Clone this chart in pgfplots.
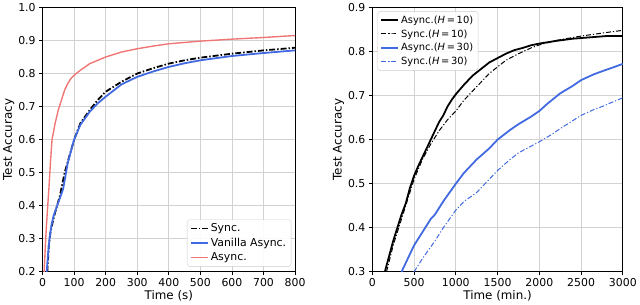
\documentclass[border=0pt]{standalone}
\usepackage{fontspec}
\setmainfont{DejaVu Sans}
\usepackage{pgfplots}
\pgfplotsset{compat=1.18}
\definecolor{myred}{HTML}{F07676}
\definecolor{myblue}{HTML}{4169E1}
\begin{document}
\begin{tikzpicture}
\path (0pt,0pt) rectangle (640pt,305pt);
\pgfplotsset{
  every axis/.style={
    scale only axis,
    anchor=south west,
    height=267pt,
    axis line style={black, line width=0.8pt},
    grid=major,
    major grid style={gray!35, line width=0.8pt},
    tick style={black, line width=0.8pt},
    tick align=outside,
    major tick length=3.5pt,
    xtick pos=bottom, ytick pos=left,
    tick label style={font=\fontsize{11}{13}\selectfont},
    label style={font=\fontsize{12}{14}\selectfont},
    /pgf/number format/assume math mode=true,
    yticklabel style={/pgf/number format/fixed, /pgf/number format/precision=1, /pgf/number format/fixed zerofill},
    xticklabel style={/pgf/number format/fixed, /pgf/number format/1000 sep={}},
    legend style={draw=gray!40, rounded corners=2pt, fill=white, fill opacity=0.9, text opacity=1, row sep=1pt},
    legend cell align=left,
  },
}
\begin{axis}[
  at={(41pt,33pt)}, width=255pt,
  xmin=0, xmax=800, ymin=0.2, ymax=1.0,
  xtick={0,100,...,800}, ytick={0.2,0.3,...,1.0},
  xlabel={Time (s)}, ylabel={Test Accuracy},
  xlabel style={yshift=3pt}, ylabel style={yshift=-3pt},
  legend style={at={(0.985,0.02)}, anchor=south east, font=\fontsize{11}{13}\selectfont},
]
\addplot[black, line width=1.8pt, dash pattern=on 6pt off 2pt on 1.5pt off 2pt] coordinates {
(15,0.2) (20,0.28) (25,0.32) (32,0.35) (40,0.38) (55,0.43) (70,0.5) (85,0.55) (100,0.6) (120,0.65) (150,0.69) (175,0.72) (200,0.745) (250,0.775) (300,0.8) (350,0.816) (400,0.83) (450,0.84) (500,0.848) (600,0.86) (700,0.87) (800,0.878)};
\addlegendentry{Sync.}
\addplot[myblue, line width=1.8pt] coordinates {
(13,0.2) (18,0.26) (22,0.3) (28,0.34) (35,0.37) (50,0.41) (65,0.45) (80,0.53) (100,0.6) (120,0.645) (150,0.685) (175,0.71) (200,0.73) (250,0.767) (300,0.79) (350,0.806) (400,0.82) (450,0.831) (500,0.84) (600,0.853) (700,0.862) (800,0.87)};
\addlegendentry{Vanilla Async.}
\addplot[myred, line width=1.4pt] coordinates {
(5,0.2) (10,0.3) (15,0.38) (20,0.45) (25,0.53) (30,0.6) (40,0.65) (50,0.69) (60,0.72) (70,0.75) (80,0.77) (90,0.785) (100,0.795) (120,0.81) (150,0.83) (175,0.84) (200,0.85) (250,0.865) (300,0.875) (350,0.883) (400,0.89) (500,0.898) (600,0.904) (700,0.909) (800,0.915)};
\addlegendentry{Async.}
\end{axis}
\begin{axis}[
  at={(374pt,33pt)}, width=253pt,
  xmin=0, xmax=3000, ymin=0.3, ymax=0.9,
  xtick={0,500,...,3000}, ytick={0.3,0.4,...,0.9},
  xlabel={Time (min.)}, ylabel={Test Accuracy},
  xlabel style={yshift=3pt}, ylabel style={yshift=-3pt},
  legend style={at={(0.02,0.985)}, anchor=north west, font=\fontsize{10}{12}\selectfont},
]
\addplot[black, line width=1.8pt] coordinates {
(150,0.3) (200,0.335) (250,0.37) (300,0.4) (350,0.43) (400,0.455) (450,0.49) (500,0.518) (550,0.54) (600,0.56) (650,0.58) (700,0.6) (750,0.62) (800,0.64) (850,0.655) (900,0.675) (950,0.69) (1000,0.703) (1100,0.725) (1200,0.745) (1300,0.76) (1400,0.775) (1500,0.785) (1600,0.795) (1700,0.803) (1800,0.808) (1900,0.814) (2000,0.818) (2200,0.824) (2400,0.829) (2600,0.832) (2800,0.835) (3000,0.835)};
\addlegendentry{Async.(\textit{H}\,=\,10)}
\addplot[black, line width=1pt, dash pattern=on 5pt off 2pt on 1.2pt off 2pt] coordinates {
(170,0.3) (250,0.36) (300,0.39) (400,0.45) (500,0.51) (600,0.555) (700,0.59) (750,0.605) (800,0.62) (900,0.645) (1000,0.665) (1100,0.69) (1200,0.71) (1250,0.72) (1300,0.73) (1400,0.75) (1500,0.765) (1600,0.78) (1750,0.795) (1900,0.808) (2000,0.815) (2200,0.825) (2500,0.835) (2800,0.843) (3000,0.848)};
\addlegendentry{Sync.(\textit{H}\,=\,10)}
\addplot[myblue, line width=1.8pt] coordinates {
(350,0.3) (400,0.32) (450,0.34) (500,0.36) (600,0.39) (700,0.42) (750,0.43) (850,0.46) (1000,0.5) (1100,0.525) (1250,0.555) (1400,0.58) (1500,0.6) (1650,0.622) (1750,0.635) (1900,0.652) (2000,0.665) (2100,0.682) (2250,0.705) (2400,0.722) (2500,0.735) (2650,0.748) (2750,0.755) (2900,0.765) (3000,0.772)};
\addlegendentry{Async.(\textit{H}\,=\,30)}
\addplot[myblue, line width=1pt, dash pattern=on 5pt off 2pt on 1.2pt off 2pt] coordinates {
(500,0.3) (600,0.33) (750,0.37) (850,0.4) (1000,0.44) (1100,0.46) (1250,0.48) (1400,0.51) (1500,0.53) (1650,0.555) (1750,0.57) (1900,0.585) (2000,0.595) (2150,0.612) (2250,0.625) (2400,0.643) (2500,0.655) (2650,0.668) (2750,0.675) (2900,0.687) (3000,0.695)};
\addlegendentry{Sync.(\textit{H}\,=\,30)}
\end{axis}
\end{tikzpicture}
\end{document}
